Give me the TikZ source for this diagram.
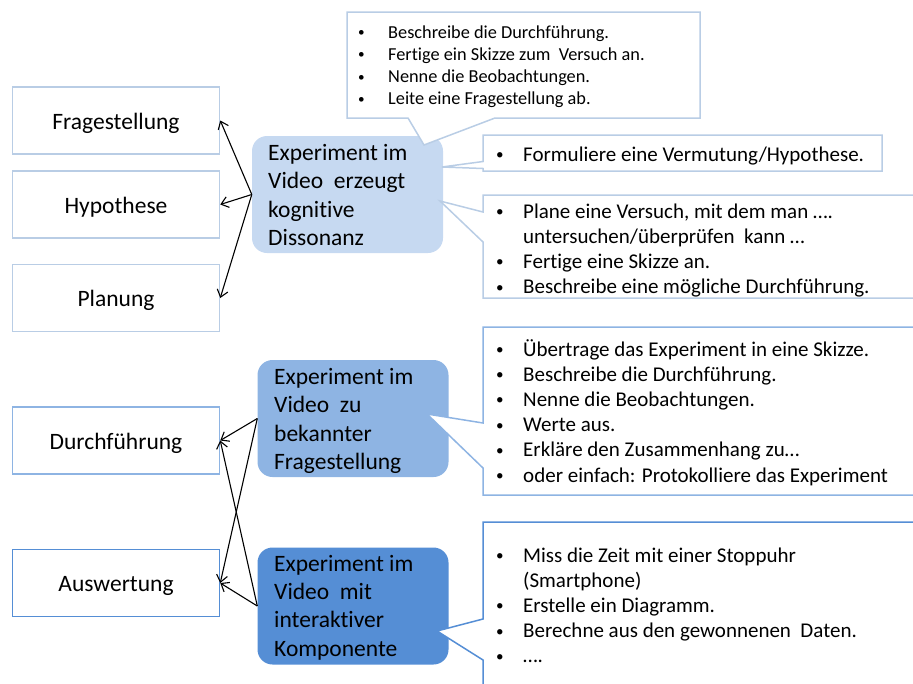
\documentclass[tikz,border=0pt]{standalone}
\usepackage{fontspec}
\setmainfont{Carlito}[Ligatures=NoCommon]
\usetikzlibrary{arrows.meta}

\definecolor{hellblau}{HTML}{C6D9F1}
\definecolor{randhell}{HTML}{B9CDE5}
\definecolor{mittelblau}{HTML}{8EB4E3}
\definecolor{dunkelblau}{HTML}{558ED5}

\newlength{\bulbreite}
\setlength{\bulbreite}{28pt}
\newcommand{\bul}{\makebox[\bulbreite][l]{\hspace{1pt}\raisebox{0.07em}{\scalebox{0.72}{\textbullet}}}}
\newcommand{\nob}{\hspace*{\bulbreite}}

\tikzset{
  phase/.style={draw=#1, line width=1.5pt, fill=white, minimum width=207pt,
    minimum height=67pt, inner sep=0pt, font=\fontsize{23.5}{28.4}\selectfont,
    text height=20pt, text depth=3pt},
  video/.style={fill=#1, rounded corners=15pt, minimum width=191pt,
    minimum height=117pt, inner sep=0pt},
  vtext/.style={anchor=base west, inner sep=0pt, font=\fontsize{23.5}{28.4}\selectfont},
  sprech/.style={draw=#1, line width=1.5pt, fill=white, line join=miter},
  liste/.style={anchor=base west, inner sep=0pt, font=\fontsize{21}{25.2}\selectfont},
  pfeil/.style={-{Straight Barb[length=7pt,width=11pt]}, line width=1.1pt},
}

\begin{document}
\begin{tikzpicture}[x=1pt,y=-1pt]
  \useasboundingbox (0,0) rectangle (913,683);
  \clip (0,0) rectangle (913,683);

  % Phasen links
  \node[phase=randhell] (frage) at (116,120.5) {Fragestellung};
  \node[phase=randhell] (hypo) at (116,204.5) {Hypothese};
  \node[phase=randhell] (plan) at (116,298) {Planung};
  \node[phase=mittelblau] (durch) at (116,440.5) {Durchführung};
  \node[phase=dunkelblau] (ausw) at (116,583) {Auswertung};

  % Videos in der Mitte
  \node[video=hellblau] (dissonanz) at (347.5,194.5) {};
  \node[video=mittelblau] (bekannt) at (353,418.5) {};
  \node[video=dunkelblau] (interaktiv) at (353,606) {};

  \node[vtext] (dissonanzT) at (268,160.5) {\begin{tabular}[t]{@{}l@{}}
    Experiment im\\Video~ erzeugt\\kognitive\\Dissonanz\end{tabular}};
  \node[vtext] (bekanntT) at (274,384.5) {\begin{tabular}[t]{@{}l@{}}
    Experiment im\\Video~ zu\\bekannter\\Fragestellung\end{tabular}};
  \node[vtext] (interaktivT) at (274,571) {\begin{tabular}[t]{@{}l@{}}
    Experiment im\\Video~ mit\\interaktiver\\Komponente\end{tabular}};

  % Pfeile zu den Phasen
  \draw[pfeil] (dissonanz.west) -- (frage.east);
  \draw[pfeil] (dissonanz.west) -- (hypo.east);
  \draw[pfeil] (dissonanz.west) -- (plan.east);
  \draw[pfeil] (bekannt.west) -- (durch.east);
  \draw[pfeil] (bekannt.west) -- (ausw.east);
  \draw[pfeil] (interaktiv.west) -- (durch.east);
  \draw[pfeil] (interaktiv.west) -- (ausw.east);

  % Spitzen der Sprechblasen
  \coordinate (spitzeA) at (424,145);
  \coordinate (spitzeB) at (442,167);
  \coordinate (spitzeC) at (440,201);
  \coordinate (spitzeD) at (427,414);
  \coordinate (spitzeE) at (437,631);

  % Sprechblasen mit Aufgaben
  \draw[sprech=randhell] (347,12) -- (700,12) -- (700,118) -- (495,118)
    -- (spitzeA) -- (408,118) -- (347,118) -- cycle;
  \draw[sprech=randhell] (483,135) -- (882,135) -- (882,171) -- (483,171)
    -- (483,168.5) -- (spitzeB) -- (483,161.5) -- cycle;
  \draw[sprech=randhell] (483,195) -- (920,195) -- (920,298) -- (483,298)
    -- (483,242) -- (spitzeC) -- (483,212) -- cycle;
  \draw[sprech=mittelblau] (483,327) -- (920,327) -- (920,495) -- (483,495)
    -- (483,468) -- (spitzeD) -- (483,423) -- cycle;
  \draw[sprech=dunkelblau] (483,522) -- (920,522) -- (920,700) -- (483,700)
    -- (483,660) -- (spitzeE) -- (483,619) -- cycle;

  \node[liste, font=\fontsize{18.3}{22.2}\selectfont\setlength{\bulbreite}{31pt}]
    (listeA) at (357,38) {\begin{tabular}[t]{@{}l@{}}
    \bul Beschreibe die Durchführung.\\
    \bul Fertige ein Skizze zum~ Versuch an.\\
    \bul Nenne die Beobachtungen.\\
    \bul Leite eine Fragestellung ab.\end{tabular}};
  \node[liste] (listeB) at (495,161) {\begin{tabular}[t]{@{}l@{}}
    \bul Formuliere eine Vermutung/Hypothese.\end{tabular}};
  \node[liste] (listeC) at (495,218) {\begin{tabular}[t]{@{}l@{}}
    \bul Plane eine Versuch, mit dem man ….\\
    \nob untersuchen/überprüfen~ kann …\\
    \bul Fertige eine Skizze an.\\
    \bul Beschreibe eine mögliche Durchführung.\end{tabular}};
  \node[liste] (listeD) at (495,356) {\begin{tabular}[t]{@{}l@{}}
    \bul Übertrage das Experiment in eine Skizze.\\
    \bul Beschreibe die Durchführung.\\
    \bul Nenne die Beobachtungen.\\
    \bul Werte aus.\\
    \bul Erkläre den Zusammenhang zu…\\
    \bul oder einfach: Protokolliere das Experiment\end{tabular}};
  \node[liste] (listeE) at (495,562) {\begin{tabular}[t]{@{}l@{}}
    \bul Miss die Zeit mit einer Stoppuhr\\
    \nob (Smartphone)\\
    \bul Erstelle ein Diagramm.\\
    \bul Berechne aus den gewonnenen~ Daten.\\
    \bul ….\end{tabular}};
\end{tikzpicture}
\end{document}
